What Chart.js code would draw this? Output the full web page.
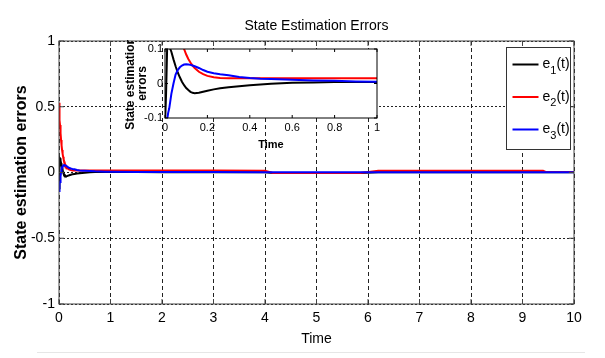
<!DOCTYPE html>
<html>
<head>
<meta charset="utf-8">
<script src="https://cdn.jsdelivr.net/npm/chart.js@4.4.1/dist/chart.umd.min.js"></script>
<style>
html, body { margin: 0; padding: 0; background: #fff; }
#wrap { position: relative; width: 605px; height: 358px; }
#main { position: absolute; left: 0; top: 0; }
#inset { position: absolute; left: 100px; top: 40px; }
#rule { position: absolute; left: 37px; top: 352px; width: 548px; border-top: 1px solid #e6e6e6; }
</style>
</head>
<body>
<div id="wrap">
  <canvas id="main" width="605" height="358"></canvas>
  <canvas id="inset" width="290" height="115"></canvas>
  <div id="rule"></div>
</div>
<script>
// datos
const time = [0, 0.005, 0.01, 0.015, 0.02, 0.03, 0.04, 0.05, 0.06, 0.07,
  0.08, 0.09, 0.1, 0.11, 0.12, 0.13, 0.14, 0.16, 0.18, 0.2,
  0.23, 0.26, 0.3, 0.35, 0.4, 0.45, 0.5, 0.6, 0.7, 0.8,
  0.9, 1, 1.5, 2, 3, 4, 4.15, 5, 5.85, 6.2,
  7, 8, 9, 9.4, 9.45, 10]
const e1 = [-0.12, -0.03, 0.1, 0.112, 0.108, 0.092, 0.07, 0.05, 0.032, 0.018,
  0.005, -0.005, -0.013, -0.019, -0.024, -0.027, -0.028, -0.027, -0.024, -0.021,
  -0.017, -0.014, -0.011, -0.008, -0.005, -0.003, -0.001, 0.002, 0.003, 0.004,
  0.004, 0.004, 0.003, 0.002, 0.002, 0.001, -0.004, -0.004, -0.004, 0.001,
  0.001, 0.001, 0.001, 0.001, 0.001, 0.001]
const e2 = [0.53, 0.481, 0.437, 0.398, 0.361, 0.299, 0.248, 0.206, 0.171, 0.143,
  0.119, 0.1, 0.084, 0.071, 0.061, 0.052, 0.045, 0.034, 0.027, 0.022,
  0.018, 0.016, 0.015, 0.015, 0.015, 0.015, 0.015, 0.015, 0.015, 0.015,
  0.015, 0.015, 0.015, 0.015, 0.015, 0.014, -0.003, -0.003, -0.003, 0.013,
  0.013, 0.013, 0.013, 0.013, 0.004, 0.004]
const e3 = [-0.14, -0.125, -0.105, -0.085, -0.072, -0.03, 0, 0.026, 0.039, 0.047,
  0.052, 0.055, 0.056, 0.055, 0.054, 0.052, 0.05, 0.045, 0.039, 0.034,
  0.03, 0.027, 0.024, 0.019, 0.016, 0.014, 0.013, 0.011, 0.009, 0.008,
  0.006, 0.005, 0.004, 0.003, 0.003, 0.002, 0.002, 0.002, 0.002, 0.002,
  0.002, 0.002, 0.002, 0.002, 0.002, 0.002]
const labels = ['e_1(t)', 'e_2(t)', 'e_3(t)']
const colors = ['#000000', '#ff0000', '#0000ff']
const mainXTicks = [0, 10, 1]
const mainYTicks = [-1, 1, 0.5]
const insetXTicks = [0, 1, 0.2]
const insetYTicks = [-0.1, 0.1, 0.1]

const FONT = "'Liberation Sans', Arial, sans-serif"
Chart.defaults.font.family = FONT
Chart.defaults.color = '#000'

// sin ceros sobrantes: 1 y no 1.0
const plain = v => String(Math.round(v * 1000) / 1000)

// la ultima serie (azul) se pinta encima
const makeSets = (width) => [e1, e2, e3].map((vals, i) => ({
    label: labels[i],
    data: time.map((t, k) => ({ x: t, y: vals[k] })),
    borderColor: colors[i],
    borderWidth: width,
    pointRadius: 0,
    tension: 0,
    order: 2 - i
}))

// marco completo con marcas de division hacia dentro (estilo matlab)
const frame = {
    id: 'frame',
    afterDatasetsDraw(chart, args, o) {
        const { ctx, chartArea: a, scales: { x, y } } = chart
        ctx.save()
        ctx.strokeStyle = o.color
        ctx.lineWidth = o.width
        ctx.beginPath()
        x.ticks.forEach(t => {
            const px = x.getPixelForValue(t.value)
            ctx.moveTo(px, a.bottom); ctx.lineTo(px, a.bottom - o.tick)
            ctx.moveTo(px, a.top); ctx.lineTo(px, a.top + o.tick)
        })
        y.ticks.forEach(t => {
            const py = y.getPixelForValue(t.value)
            ctx.moveTo(a.left, py); ctx.lineTo(a.left + o.tick, py)
            ctx.moveTo(a.right, py); ctx.lineTo(a.right - o.tick, py)
        })
        ctx.stroke()
        ctx.strokeRect(a.left, a.top, a.right - a.left, a.bottom - a.top)
        ctx.restore()
    }
}

// fondo blanco solo en el area del grafico pequeño
const whiteBg = {
    id: 'whiteBg',
    beforeDraw(chart) {
        const { ctx, chartArea: a } = chart
        ctx.save()
        ctx.fillStyle = '#fff'
        ctx.fillRect(a.left, a.top, a.right - a.left, a.bottom - a.top)
        ctx.restore()
    }
}

// leyenda con subindices
const legendBox = {
    id: 'legendBox',
    afterDraw(chart, args, o) {
        const { ctx, chartArea: a } = chart
        const left = Math.round(a.right - o.right - o.width) + 0.5
        const top = Math.round(a.top + o.top) + 0.5
        ctx.save()
        ctx.fillStyle = '#fff'
        ctx.fillRect(left, top, o.width, o.height)
        ctx.strokeStyle = '#333'
        ctx.lineWidth = 1
        ctx.strokeRect(left, top, o.width, o.height)
        ctx.textBaseline = 'middle'
        ctx.textAlign = 'left'
        chart.data.datasets.forEach((ds, i) => {
            const y = top + o.first + i * o.gap
            ctx.strokeStyle = ds.borderColor
            ctx.lineWidth = 2
            ctx.beginPath(); ctx.moveTo(left + 6, y); ctx.lineTo(left + 32, y); ctx.stroke()
            const [, base, sub, rest] = ds.label.match(/^(.*)_(\w)(.*)$/)
            ctx.fillStyle = '#000'
            let x = left + 36
            ctx.font = '14px ' + FONT
            ctx.fillText(base, x, y); x += ctx.measureText(base).width
            ctx.font = '11px ' + FONT
            ctx.fillText(sub, x, y + 6); x += ctx.measureText(sub).width
            ctx.font = '14px ' + FONT
            ctx.fillText(rest, x, y)
        })
        ctx.restore()
    }
}

const printCharts = () => {
    renderMainChart()
    renderInsetChart()
}

const renderMainChart = () => {
    const options = {
        responsive: false,
        animation: false,
        layout: { padding: { top: 0, right: 31, bottom: 0, left: 0 } },
        plugins: {
            legend: { display: false },
            tooltip: { enabled: false },
            title: {
                display: true, fullSize: false, text: 'State Estimation Errors',
                font: { size: 14, weight: 'normal' }, padding: { top: 17.5, bottom: 6.7 }
            },
            frame: { color: '#444', width: 1, tick: 5 },
            legendBox: { right: 4, top: 6, width: 64, height: 102, first: 17, gap: 32.5 }
        },
        scales: {
            x: {
                type: 'linear', min: mainXTicks[0], max: mainXTicks[1],
                ticks: { stepSize: mainXTicks[2], font: { size: 14 }, padding: 6, maxRotation: 0, callback: plain },
                grid: { color: '#222', drawTicks: false },
                border: { display: false, dash: [4, 3] },
                title: { display: true, text: 'Time', font: { size: 14, weight: 'normal' }, padding: { top: 0, bottom: 10 } },
                afterFit: s => { s.height = 54 }
            },
            y: {
                min: mainYTicks[0], max: mainYTicks[1],
                ticks: { stepSize: mainYTicks[2], font: { size: 14 }, padding: 4, callback: plain },
                grid: { color: '#222', drawTicks: false },
                border: { display: false, dash: [2, 2] },
                title: {
                    display: true, text: 'State estimation errors',
                    font: { size: 16, weight: 'bold' },
                    padding: { top: 12, bottom: 0 }
                },
                afterFit: s => { s.width = 59 }
            }
        }
    }
    new Chart('main', { type: 'line', data: { datasets: makeSets(2) }, options, plugins: [frame, legendBox] })
}

const renderInsetChart = () => {
    const options = {
        responsive: false,
        animation: false,
        layout: { padding: { top: 9, right: 13, bottom: 0, left: 0 } },
        datasets: { line: { clip: 0 } },
        plugins: {
            legend: { display: false },
            tooltip: { enabled: false },
            frame: { color: '#000', width: 1, tick: 3 }
        },
        scales: {
            x: {
                type: 'linear', min: insetXTicks[0], max: insetXTicks[1],
                ticks: { stepSize: insetXTicks[2], font: { size: 11 }, padding: 3, maxRotation: 0, autoSkip: false, callback: plain },
                grid: { display: false, drawTicks: false },
                border: { display: false },
                title: { display: true, text: 'Time', font: { size: 11, weight: 'bold' }, padding: { top: 0, bottom: 3 } },
                afterFit: s => { s.height = 37 }
            },
            y: {
                min: insetYTicks[0], max: insetYTicks[1],
                ticks: { stepSize: insetYTicks[2], font: { size: 11 }, padding: 2, callback: plain },
                grid: { display: false, drawTicks: false },
                border: { display: false },
                title: {
                    display: true, text: ['State estimation', 'errors'],
                    font: { size: 12, weight: 'bold', lineHeight: 1 },
                    padding: { top: 25, bottom: 0 }
                },
                afterFit: s => { s.width = 65 }
            }
        }
    }
    new Chart('inset', { type: 'line', data: { datasets: makeSets(2) }, options, plugins: [whiteBg, frame] })
}

printCharts()
</script>
</body>
</html>
